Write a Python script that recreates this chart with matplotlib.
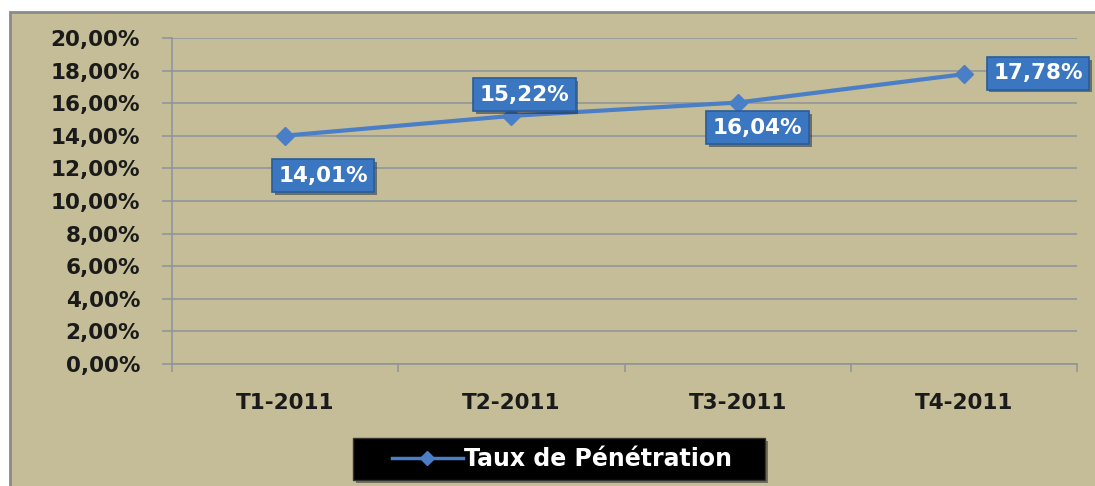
import numpy as np
import matplotlib.pyplot as plt
import matplotlib.patches as mpatches
import matplotlib.patheffects as pe
from matplotlib.lines import Line2D

#--------------------------------------
categories = ["T1-2011", "T2-2011", "T3-2011", "T4-2011"]
values     = [14.01, 15.22, 16.04, 17.78]
labels     = ["14,01%", "15,22%", "16,04%", "17,78%"]
yticks     = [0, 2, 4, 6, 8, 10, 12, 14, 16, 18, 20]
serieName  = "Taux de Pénétration"
#--------------------------------------
bgColor   = "#C5BD97"
lineColor = "#4A7EC6"
gridColor = "#8E939C"
boxColor  = "#3B76C0"

fig = plt.figure(figsize=(10.95, 4.86), dpi=100)
fig.patch.set_facecolor("white")

# fond du graphique (cadre kaki)
frame = mpatches.Rectangle((10/1095, -0.1), 1.2, 1-12/486+0.1, transform=fig.transFigure,
                           facecolor=bgColor, edgecolor="#8A8A8A", linewidth=2, zorder=-5)
fig.patches.append(frame)

ax = fig.add_axes([172/1095, 122/486, 905/1095, 326/486])
ax.set_facecolor("none")
ax.set_zorder(1)

x = np.arange(len(categories))
ln, = ax.plot(x, values, '-D', color=lineColor, linewidth=3, markersize=9,
              markeredgecolor=lineColor, label=serieName, zorder=3)

ax.set_xlim(-0.5, len(categories)-0.5)
ax.set_ylim(0, 20)
ax.set_yticks(yticks)
ax.set_yticklabels(["{:.2f}%".format(v).replace(".", ",") for v in yticks])
ax.yaxis.grid(True, color=gridColor, linewidth=1.1)
ax.set_axisbelow(True)

ax.set_xticks(x)
ax.set_xticklabels(categories)
ax.set_xticks(np.arange(-0.5, len(categories)), minor=True)
ax.tick_params(axis='x', which='major', length=0, pad=21)
ax.tick_params(axis='x', which='minor', length=6, color=gridColor, width=1.1)
ax.tick_params(axis='y', length=7, color=gridColor, width=1.1, pad=16)

for lab in ax.get_xticklabels() + ax.get_yticklabels():
    lab.set_fontweight('bold')
    lab.set_fontsize(15.5)
    lab.set_color("#1A1A1A")

for s in ["top", "right"]:
    ax.spines[s].set_visible(False)
for s in ["left", "bottom"]:
    ax.spines[s].set_color(gridColor)
    ax.spines[s].set_linewidth(1.1)

# etiquettes de donnees
offsets = [(38, -40), (13, 21), (20, -25), (74, 1)]
for i in range(len(values)):
    t = ax.annotate(labels[i], (x[i], values[i]), xytext=offsets[i], textcoords='offset pixels',
                    ha='center', va='center', fontsize=15.5, fontweight='bold', color='white',
                    bbox=dict(boxstyle='square,pad=0.3', facecolor=boxColor, edgecolor="#2A5C9A", linewidth=1.2),
                    zorder=5)
    t.get_bbox_patch().set_path_effects([pe.SimplePatchShadow(offset=(2, -2), alpha=0.5), pe.Normal()])

# legende sur fond noir
legBox = mpatches.Rectangle((353/1095, 1-480/486), 412/1095, 42/486, transform=fig.transFigure,
                            facecolor='black', edgecolor='#333333', linewidth=1, zorder=2)
legBox.set_path_effects([pe.SimplePatchShadow(offset=(2, -2), alpha=0.4), pe.Normal()])
fig.patches.append(legBox)
legHandle = Line2D([], [], color=lineColor, linewidth=2.5, marker='D', markersize=7)
leg = fig.legend(handles=[legHandle], labels=[serieName], loc='center left',
                 bbox_to_anchor=(392/1095, 1-459/486), frameon=False,
                 handlelength=3.0, handletextpad=0.05, borderpad=0, borderaxespad=0,
                 prop={'weight': 'bold', 'size': 17})
leg.set_zorder(3)
for txt in leg.get_texts():
    txt.set_color('white')

fig.savefig("out.png", dpi=100, facecolor=fig.get_facecolor())
